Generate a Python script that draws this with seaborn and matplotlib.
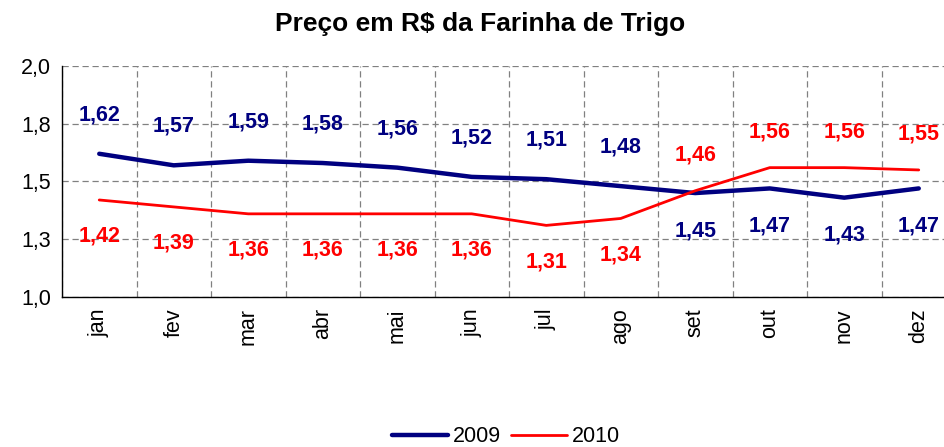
import numpy as np
import pandas as pd
import matplotlib
matplotlib.use("Agg")
import matplotlib.pyplot as plt
from matplotlib.ticker import FixedLocator
import seaborn as sns

meses = ['jan', 'fev', 'mar', 'abr', 'mai', 'jun', 'jul', 'ago', 'set', 'out', 'nov', 'dez']
preco_2009 = [1.62, 1.57, 1.59, 1.58, 1.56, 1.52, 1.51, 1.48, 1.45, 1.47, 1.43, 1.47]
preco_2010 = [1.42, 1.39, 1.36, 1.36, 1.36, 1.36, 1.31, 1.34, 1.46, 1.56, 1.56, 1.55]
y_ticks = [1.0, 1.25, 1.5, 1.75, 2.0]
y_labels = ['1,0', '1,3', '1,5', '1,8', '2,0']

sns.set_style("white")
plt.rcParams['font.family'] = ['Liberation Sans', 'DejaVu Sans']
plt.rcParams['text.color'] = 'black'
plt.rcParams['xtick.color'] = 'black'
plt.rcParams['ytick.color'] = 'black'

df = pd.DataFrame({
    'mes': meses * 2,
    'preco': preco_2009 + preco_2010,
    'ano': ['2009'] * 12 + ['2010'] * 12,
})

fig = plt.figure(figsize=(9.44, 4.47), dpi=100)
ax = fig.add_axes([62 / 944, 1 - 297 / 447, 894 / 944, 231 / 447])

sns.lineplot(data=df[df.ano == '2009'], x='mes', y='preco', color='#000080',
             linewidth=3.2, label='2009', ax=ax, sort=False)
sns.lineplot(data=df[df.ano == '2010'], x='mes', y='preco', color='#FF0000',
             linewidth=2.0, label='2010', ax=ax, sort=False)

# data labels: 2009 above / 2010 below for jan-ago, swapped afterwards
for i in range(12):
    up09 = i < 8
    ax.annotate(f"{preco_2009[i]:.2f}".replace('.', ','), (i, preco_2009[i]),
                xytext=(0, 28 if up09 else -27), textcoords='offset points',
                ha='center', va='center', color='#000080', fontsize=15.5, fontweight='bold')
    ax.annotate(f"{preco_2010[i]:.2f}".replace('.', ','), (i, preco_2010[i]),
                xytext=(0, -26 if up09 else 26), textcoords='offset points',
                ha='center', va='center', color='#FF0000', fontsize=15.5, fontweight='bold')

ax.set_xlim(-0.5, 11.5)
ax.set_ylim(1.0, 2.0)
ax.set_yticks(y_ticks)
ax.set_yticklabels(y_labels, fontsize=15.5)
ax.xaxis.set_major_locator(FixedLocator(range(12)))
ax.set_xticklabels(meses, rotation=90, fontsize=15.5)
ax.xaxis.set_minor_locator(FixedLocator(np.arange(-0.5, 12, 1)))
ax.tick_params(axis='x', which='major', length=0, pad=8)
ax.tick_params(axis='x', which='minor', length=5, color='black', direction='out')
ax.tick_params(axis='y', length=5, color='black', direction='out', pad=3)
ax.set_xlabel('')
ax.set_ylabel('')

ax.grid(True, axis='y', which='major', color='#808080', linestyle=(0, (5, 3)), linewidth=0.9)
ax.grid(True, axis='x', which='minor', color='#808080', linestyle=(0, (5, 3)), linewidth=0.9)
ax.grid(False, axis='x', which='major')

for s in ['top', 'right']:
    ax.spines[s].set_visible(False)
for s in ['left', 'bottom']:
    ax.spines[s].set_color('black')
    ax.spines[s].set_linewidth(1.0)

ax.legend_.remove()
handles, labels = ax.get_legend_handles_labels()
fig.legend(handles, labels, loc='center', bbox_to_anchor=(506 / 944, 1 - 437 / 447),
           ncol=2, frameon=False, fontsize=15.5, handlelength=2.6, columnspacing=0.5,
           handletextpad=0.2)

fig.text(480 / 944, 1 - 24 / 447, 'Preço em R$ da Farinha de Trigo', ha='center', va='center',
         fontsize=19, fontweight='bold', color='black')

fig.savefig('out.png', dpi=100)
